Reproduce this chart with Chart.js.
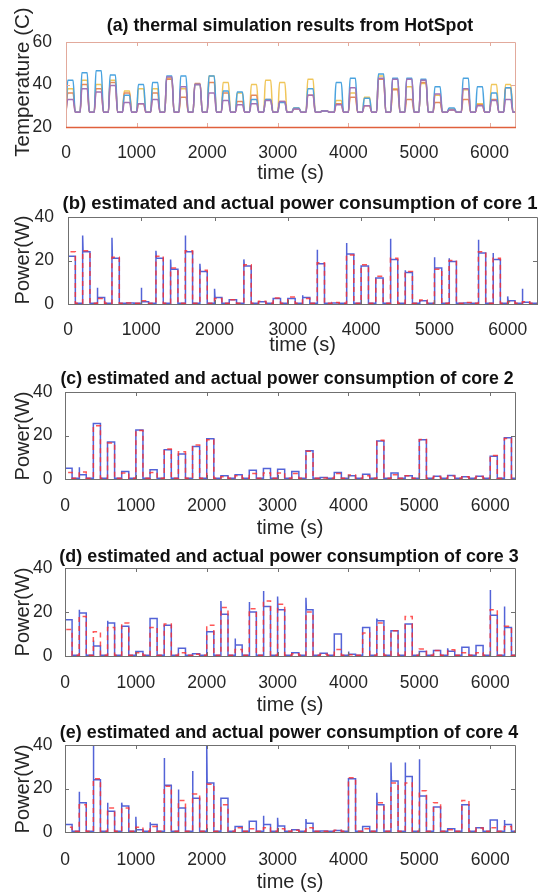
<!DOCTYPE html>
<html>
<head>
<meta charset="utf-8">
<title>HotSpot thermal simulation and core power</title>
<script src="https://cdn.jsdelivr.net/npm/chart.js@4.4.1/dist/chart.umd.min.js"></script>
<style>
  html, body { margin: 0; padding: 0; background: #fff; }
  body { position: relative; width: 543px; height: 892px; overflow: hidden;
         font-family: "Liberation Sans", Arial, Helvetica, sans-serif; color: #111; }
  canvas { position: absolute; left: 0; }
  .title { position: absolute; font-weight: bold; white-space: nowrap; transform: translate(-50%, -50%); }
  .ylabel { position: absolute; white-space: nowrap; color: #262626; font-size: 20px;
            transform: translate(-50%, -50%) rotate(-90deg); }
</style>
</head>
<body>
<canvas id="chartA" width="543" height="190" style="top:0px"></canvas>
<canvas id="chartB" width="543" height="168" style="top:190px"></canvas>
<canvas id="chartC" width="543" height="182" style="top:358px"></canvas>
<canvas id="chartD" width="543" height="175" style="top:540px"></canvas>
<canvas id="chartE" width="543" height="177" style="top:715px"></canvas>

<div class="title" style="left:290px; top:25px; font-size:17.8px">(a) thermal simulation results from HotSpot</div>
<div class="title" style="left:300px; top:203px; font-size:18.5px">(b) estimated and actual power consumption of core 1</div>
<div class="title" style="left:287px; top:378px; font-size:17.7px">(c) estimated and actual power consumption of core 2</div>
<div class="title" style="left:289px; top:556px; font-size:17.9px">(d) estimated and actual power consumption of core 3</div>
<div class="title" style="left:289px; top:732px; font-size:17.9px">(e) estimated and actual power consumption of core 4</div>

<div class="ylabel" style="left:22px; top:82px; font-size:20.5px">Temperature (C)</div>
<div class="ylabel" style="left:22px; top:260px">Power(W)</div>
<div class="ylabel" style="left:22px; top:436px">Power(W)</div>
<div class="ylabel" style="left:22px; top:612px">Power(W)</div>
<div class="ylabel" style="left:22px; top:789px">Power(W)</div>

<script>
// task start times (s); each task runs for pulseWidth seconds, then the core idles
const startTimes = [0, 200, 400, 600, 800, 1000, 1200, 1400, 1600, 1800, 2000, 2200, 2400, 2600, 2800, 3000,
                    3200, 3400, 3600, 3800, 4000, 4200, 4400, 4600, 4800, 5000, 5200, 5400, 5600, 5800, 6000, 6200];
const pulseWidth = 100;
const offLevel = 0.3;   // idle power (W)
const tempBase = 27;    // idle temperature (C)

const timeTicks = [0, 1000, 2000, 3000, 4000, 5000, 6000];
const tempTicks = [20, 40, 60];
const powerTicks = [0, 20, 40];

// (a) temperature reached during each task (C)
const tempBlue   = [42, 45.5, 46.5, 44.5, 35, 40, 41, 44, 44, 40, 44, 37, 36.5, 33, 33, 31.5, 29, 38, 27.5, 41, 43, 33.5, 45, 43, 43, 42.5, 39, 29, 43, 39, 36, 38.5];
const tempOrange = [36, 40, 38, 41, 36, 31, 36, 42.5, 34, 40.5, 41, 36, 32, 35, 33, 32, 28.5, 35, 27.5, 31, 34, 30, 42.5, 37.5, 33, 41, 31.5, 28, 33, 30.5, 33, 38.5];
const tempYellow = [38, 42, 40, 42, 37, 38, 38, 43, 38, 40, 44, 41, 36, 40, 42, 41, 29, 42.5, 27.5, 32.5, 36, 34, 44, 38, 39, 40.5, 35, 28.5, 37.5, 31, 40, 40];
const tempPurple = [33, 38, 36.5, 39.5, 31.5, 31, 33, 43.5, 39, 40, 36, 32.5, 30.5, 31, 32.5, 32, 28.5, 35, 27.5, 30.5, 38.5, 30, 43, 42.5, 42.5, 42, 35.5, 28, 38, 30, 32.5, 33];

// (b)-(e) power per task (W): actual level, start-up peak of the actual trace (null = none), estimate
const core1Actual = [22, 24, 3, 21, 0.5, 1, 21, 16, 24, 15, 3, 2, 17.5, 1, 2.5, 2.5, 3, 18.5, 0.5, 23, 17.5, 12, 20.5, 14.5, 1.5, 16.5, 19.5, 0.5, 23.5, 20.5, 1.5, 0.8];
const core1Peak   = [null, 31.5, 7.5, 30.5, null, 7.5, 24.5, 20.5, 31.5, 18.5, 7, null, 20.5, null, null, null, 4, 25, null, 28, null, null, 30, 15.5, null, 21.5, 21, null, 29.5, 23.5, 3.5, 7];
const core1Est    = [24, 24.5, 2.5, 21.5, 0.5, 1.5, 22, 16.5, 24.5, 15.5, 2.5, 2, 18, 1.3, 2.8, 3.2, 2.5, 19, 0.7, 22.5, 18, 12.8, 21, 15, 1.8, 16, 20, 0.7, 24, 21, 1, 1];

const core2Actual = [5, 2, 25.5, 17, 3.5, 22.5, 4.2, 13.5, 11.5, 15, 18.5, 1.5, 2, 4, 4.8, 4.5, 3.5, 13, 0.7, 3, 1.5, 2.2, 17.5, 2.8, 1.5, 18, 1.3, 1.6, 1, 1.3, 10.5, 19];
const core2Peak   = [null, 5.4, null, null, null, null, null, null, null, null, null, null, null, null, null, null, null, null, null, null, 2, null, null, null, null, null, null, null, null, null, null, null];
const core2Est    = [3, 3.2, 24.5, 16.5, 2.8, 22.3, 3, 13.8, 12.5, 15.6, 18, 1, 1.5, 2.5, 2.8, 2.8, 2.5, 12.8, 0.5, 2.5, 1.8, 1.5, 17.8, 2, 1.5, 18.2, 1.2, 1.4, 1, 1.1, 10.8, 18.6];

const core3Actual = [16.5, 19.5, 4.5, 15, 13.5, 2, 17, 14, 3.5, 1, 11, 19, 5, 20, 22.5, 21, 1.5, 21, 1.2, 10, 0.8, 13, 16, 11.5, 14.5, 2, 2.5, 2.2, 4, 4.8, 18.5, 13];
const core3Peak   = [null, 21, 7, 16, null, null, null, null, null, null, null, 25, 8, 24.5, 29.5, 27, null, 26.5, null, null, 2, null, 17, null, null, null, null, 3.5, null, null, 30, 22.5];
const core3Est    = [12, 18, 11, 13, 15, 1.5, 13, 14.5, 1.5, 0.8, 14, 22, 3, 21.5, 25, 23.5, 1, 20, 0.8, 3, 0.6, 10.5, 15, 11.5, 18, 3.2, 2.5, 2.8, 1.5, 1.5, 21, 13.5];

const core4Actual = [3.5, 13.5, 24, 9.5, 12, 1, 3.5, 21.5, 11, 15.5, 22.5, 15.5, 2.5, 5, 3.5, 2.8, 1, 4, 0.5, 0.7, 24.5, 2.5, 12.5, 23.5, 25.5, 16.5, 11.5, 1.5, 12.5, 2, 5.5, 3.5];
const core4Peak   = [null, 18.5, 40, 13.5, 13.5, 7, 4.5, 34, 19.5, 28, 40, null, null, null, 7.5, 6.5, null, 6, null, null, null, null, 18, 32, 32, 33.5, null, null, null, null, null, 5.5];
const core4Est    = [2.2, 12.5, 24.5, 11, 11, 2.2, 2.5, 21, 14.5, 17.5, 22, 12.5, 2, 1.5, 2, 1.5, 0.8, 2, 0.3, 0.8, 25, 1.5, 13.5, 22.5, 22.5, 19, 13.5, 1, 14.5, 1.8, 2, 2.5];

const font = '"Liberation Sans", Arial, sans-serif';
const textColor = '#262626';

Chart.defaults.elements.point.radius = 0;
Chart.defaults.elements.line.borderWidth = 1.5;

// step trace: jump up at the task start (optionally through a peak), drop at the end
function stepTrace(levels, peaks) {
    const pts = [];
    startTimes.forEach((t, i) => {
        pts.push({ x: t, y: offLevel });
        if (peaks && peaks[i] != null) {
            pts.push({ x: t, y: peaks[i] }, { x: t + 6, y: levels[i] });
        } else {
            pts.push({ x: t, y: levels[i] });
        }
        pts.push({ x: t + pulseWidth, y: levels[i] }, { x: t + pulseWidth, y: offLevel });
    });
    pts.push({ x: 6400, y: offLevel });
    return pts;
}

function tempTrace(levels) {
    const pts = [];
    startTimes.forEach((t, i) => {
        pts.push({ x: t, y: tempBase }, { x: t + 25, y: levels[i] },
                 { x: t + pulseWidth, y: levels[i] }, { x: t + pulseWidth + 30, y: tempBase });
    });
    pts.push({ x: 6400, y: tempBase });
    return pts;
}

// MATLAB style box with inward tick marks
const framePlugin = {
    id: 'frame',
    afterDatasetsDraw(chart, args, o) {
        const { ctx, chartArea: a, scales: { x, y } } = chart;
        ctx.save();
        ctx.lineWidth = 1;
        ctx.strokeStyle = o.color;
        ctx.beginPath();
        ctx.moveTo(a.left + 0.5, a.bottom + 0.5);
        ctx.lineTo(a.left + 0.5, a.top + 0.5);
        ctx.lineTo(a.right + 0.5, a.top + 0.5);
        ctx.lineTo(a.right + 0.5, a.bottom + 0.5);
        x.ticks.forEach(t => {
            const px = Math.round(x.getPixelForValue(t.value)) + 0.5;
            ctx.moveTo(px, a.bottom); ctx.lineTo(px, a.bottom - 4);
            ctx.moveTo(px, a.top); ctx.lineTo(px, a.top + 4);
        });
        y.ticks.forEach(t => {
            const py = Math.round(y.getPixelForValue(t.value)) + 0.5;
            ctx.moveTo(a.left, py); ctx.lineTo(a.left + 4, py);
            ctx.moveTo(a.right, py); ctx.lineTo(a.right - 4, py);
        });
        ctx.stroke();
        ctx.strokeStyle = o.bottomColor || o.color;
        ctx.lineWidth = o.bottomWidth || 1;
        ctx.beginPath();
        ctx.moveTo(a.left, a.bottom + 0.5);
        ctx.lineTo(a.right + 1, a.bottom + 0.5);
        ctx.stroke();
        ctx.restore();
    }
};

function panelOptions(p) {
    return {
        responsive: false,
        animation: false,
        events: [],
        layout: { padding: { top: p.top, right: 543 - p.right, left: 0, bottom: 0 } },
        plugins: {
            legend: { display: false },
            tooltip: { enabled: false },
            frame: p.frame
        },
        scales: {
            x: {
                type: 'linear', min: 0, max: p.xMax,
                grid: { display: false }, border: { display: false },
                afterBuildTicks: s => { s.ticks = timeTicks.map(v => ({ value: v })); },
                ticks: {
                    maxRotation: 0, autoSkip: false,
                    padding: p.xTickPad, color: textColor,
                    font: { family: font, size: 17.5, lineHeight: 1 },
                    callback: v => String(v)
                },
                title: {
                    display: true, text: 'time (s)', color: textColor,
                    font: { family: font, size: 20, lineHeight: 1 },
                    padding: { top: 0, bottom: p.xTitlePad }
                },
                afterFit: s => { s.height = p.xAxisH; }
            },
            y: {
                min: p.yTicks[0], max: p.yTicks[p.yTicks.length - 1],
                grid: { display: false }, border: { display: false },
                afterBuildTicks: s => { s.ticks = p.yTicks.map(v => ({ value: v })); },
                ticks: {
                    padding: p.yTickPad, color: textColor,
                    font: { family: font, size: 17.5, lineHeight: 1 },
                    callback: v => String(v)
                },
                afterFit: s => { s.width = p.left; }
            }
        }
    };
}

const estColor = 'rgba(255, 45, 45, 0.8)';
const actColor = 'rgba(40, 60, 205, 0.8)';
const powerFrame = { color: '#707070' };

function powerChart(id, est, act, peak, p) {
    return new Chart(document.getElementById(id), {
        type: 'line',
        data: {
            datasets: [
                { label: 'estimated', data: stepTrace(est), borderColor: estColor, borderDash: [5, 4] },
                { label: 'actual', data: stepTrace(act, peak), borderColor: actColor }
            ]
        },
        options: panelOptions(Object.assign({ yTicks: powerTicks, frame: powerFrame }, p)),
        plugins: [framePlugin]
    });
}

new Chart(document.getElementById('chartA'), {
    type: 'line',
    data: {
        datasets: [
            { label: 'core 4', data: tempTrace(tempPurple), borderColor: '#a273b6', cubicInterpolationMode: 'monotone' },
            { label: 'core 1', data: tempTrace(tempBlue), borderColor: '#4aa3df', cubicInterpolationMode: 'monotone' },
            { label: 'core 2', data: tempTrace(tempOrange), borderColor: '#e58a5c', cubicInterpolationMode: 'monotone' },
            { label: 'core 3', data: tempTrace(tempYellow), borderColor: '#f0c65a', cubicInterpolationMode: 'monotone' }
        ]
    },
    options: panelOptions({
        top: 42, right: 515, left: 66, xAxisH: 63, xMax: 6360,
        xTickPad: 9, xTitlePad: 6.5, yTickPad: 6, yTicks: tempTicks,
        frame: { color: '#e2aa9c', bottomColor: '#e0603c', bottomWidth: 1.5 }
    }),
    plugins: [framePlugin]
});

powerChart('chartB', core1Est, core1Actual, core1Peak,
    { top: 27, right: 537, left: 68, xAxisH: 54, xMax: 6400, xTickPad: 9, xTitlePad: 3, yTickPad: 6 });
powerChart('chartC', core2Est, core2Actual, core2Peak,
    { top: 34, right: 515, left: 65, xAxisH: 61, xMax: 6350, xTickPad: 10, xTitlePad: 2, yTickPad: 4.5 });
powerChart('chartD', core3Est, core3Actual, core3Peak,
    { top: 28, right: 515, left: 65, xAxisH: 59, xMax: 6350, xTickPad: 10, xTitlePad: 0, yTickPad: 4.5 });
powerChart('chartE', core4Est, core4Actual, core4Peak,
    { top: 30, right: 515, left: 65, xAxisH: 60, xMax: 6350, xTickPad: 11, xTitlePad: 0, yTickPad: 4.5 });
</script>
</body>
</html>
